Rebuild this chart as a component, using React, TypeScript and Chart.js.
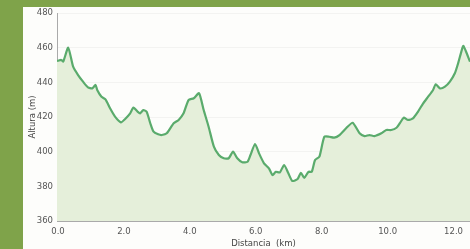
import React, { useEffect, useRef } from "react";
import { Chart, registerables } from "chart.js";

Chart.register(...registerables);

const distanceKm = [
  0.0, 0.13, 0.19, 0.34, 0.49, 0.64, 0.79, 0.94, 1.07, 1.17, 1.22, 1.35, 1.47, 1.61, 1.76, 1.94,
  2.06, 2.22, 2.32, 2.45, 2.52, 2.62, 2.72, 2.83, 2.93, 3.07, 3.18, 3.33, 3.54, 3.69, 3.84, 3.99,
  4.15, 4.31, 4.45, 4.6, 4.76, 4.91, 5.06, 5.21, 5.34, 5.47, 5.62, 5.78, 5.87, 6.01, 6.13, 6.28,
  6.43, 6.54, 6.64, 6.76, 6.89, 7.02, 7.14, 7.3, 7.4, 7.5, 7.63, 7.73, 7.83, 7.96, 8.11, 8.26,
  8.41, 8.57, 8.77, 8.97, 9.18, 9.33, 9.48, 9.63, 9.84, 9.99, 10.14, 10.3, 10.4, 10.52, 10.65,
  10.8, 10.95, 11.11, 11.26, 11.41, 11.49, 11.62, 11.77, 11.92, 12.07, 12.17, 12.28, 12.33, 12.43,
  12.53,
];

const altitudeM = [
  452.3, 452.9, 452, 460, 449, 444.2, 440.4, 437.1, 436.5, 438.5, 435.6, 431.7, 430.2, 425, 420.2,
  416.9, 418.7, 422.1, 425.4, 423, 422.1, 424, 423, 416.4, 411.5, 410, 409.6, 410.6, 416.4, 418.3,
  422.1, 429.8, 430.8, 433.7, 424, 414.4, 402.9, 398.1, 396.2, 396.2, 400, 396.2, 393.9, 394.2,
  398.1, 404.4, 399, 393.3, 390.4, 386.5, 388.4, 388, 392.3, 387.5, 383.1, 384.2, 387.8, 384.9,
  388.4, 388.4, 395.2, 397.1, 408.6, 408.6, 408.1, 409.6, 413.5, 416.7, 410.6, 409, 409.6, 409,
  410.6, 412.5, 412.5, 413.8, 416.4, 419.6, 418.3, 419.2, 423, 427.9, 431.7, 435.6, 438.9, 436.5,
  437.5, 440.4, 445.2, 451, 458.6, 461, 456.8, 451.9,
];

const xAxisTitle = "Distancia  (km)";
const yAxisTitle = "Altura (m)";

export default function App() {
  const canvasRef = useRef<HTMLCanvasElement | null>(null);

  useEffect(() => {
    const canvas = canvasRef.current;
    if (!canvas) return;
    const points = distanceKm.map((d, i) => ({ x: d, y: altitudeM[i] }));
    const font = { family: "DejaVu Sans", size: 8.5 };
    const chart = new Chart(canvas, {
      type: "line",
      data: {
        datasets: [
          {
            data: points,
            borderColor: "#5aab6c",
            borderWidth: 2.2,
            backgroundColor: "#e5efda",
            fill: "start",
            pointRadius: 0,
            tension: 0.2,
          },
        ],
      },
      options: {
        animation: false,
        responsive: false,
        devicePixelRatio: 1,
        layout: { padding: { left: 24, top: 13, right: 0, bottom: 0 } },
        plugins: { legend: { display: false }, tooltip: { enabled: false } },
        scales: {
          x: {
            type: "linear",
            min: 0,
            max: 12.53,
            afterFit: (s: any) => {
              s.height = 28;
            },
            ticks: {
              stepSize: 2,
              includeBounds: false,
              maxRotation: 0,
              padding: 6,
              labelOffset: 1,
              color: "#555",
              font,
              callback: (v: any) => Number(v).toFixed(1),
            },
            grid: { display: false, drawTicks: false },
            border: { color: "#aaa", width: 1 },
            title: {
              display: true,
              text: xAxisTitle,
              color: "#444",
              font,
              padding: { top: 0, bottom: 0 },
            },
          },
          y: {
            min: 360,
            max: 480,
            afterFit: (s: any) => {
              s.width = 33;
            },
            ticks: { stepSize: 20, padding: 4, color: "#555", font },
            grid: { color: "rgba(0,0,0,0.04)", drawTicks: false },
            border: { color: "#aaa", width: 1 },
            title: {
              display: true,
              text: yAxisTitle,
              color: "#444",
              font,
              padding: { top: 4, bottom: 4 },
            },
          },
        },
      },
    });
    return () => chart.destroy();
  }, []);

  return (
    <div style={{ position: "absolute", left: 0, top: 0, width: 470, height: 249, background: "#7fa34a", overflow: "hidden" }}>
      <div style={{ position: "absolute", left: 23, top: 7, width: 447, height: 242, background: "#fdfdfb" }} />
      <canvas
        ref={canvasRef}
        width={470}
        height={249}
        style={{ position: "absolute", left: 0, top: 0, width: 470, height: 249 }}
      />
    </div>
  );
}
